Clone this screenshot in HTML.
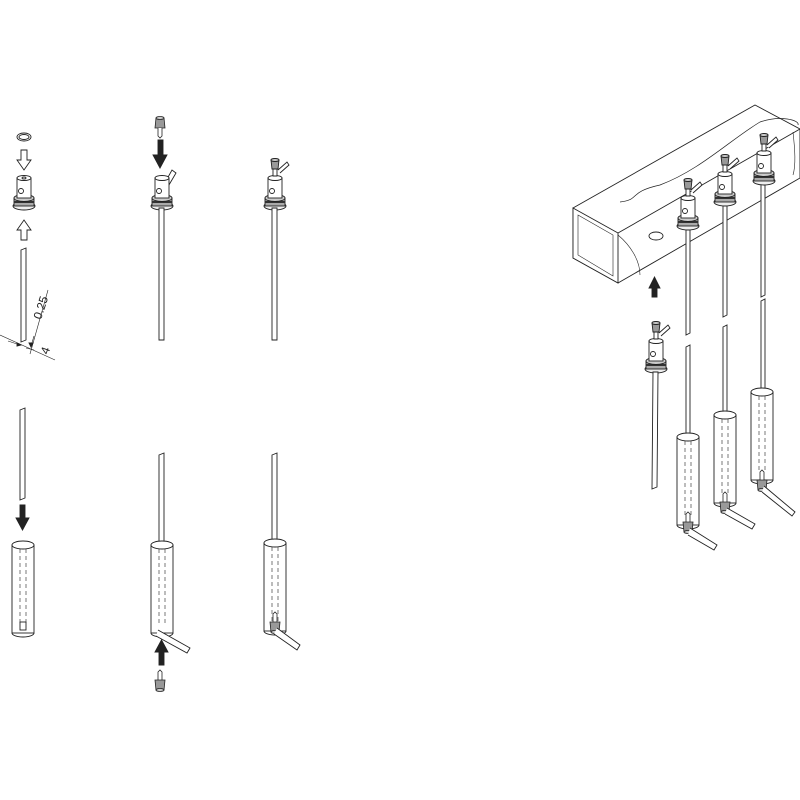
<!DOCTYPE html>
<html><head><meta charset="utf-8"><style>html,body{margin:0;padding:0;background:#fff}svg{display:block}</style></head>
<body>
<svg width="800" height="800" viewBox="0 0 800 800" xmlns="http://www.w3.org/2000/svg" font-family="Liberation Sans, sans-serif">
<defs>
<g id="fit" stroke="#222" stroke-width="0.9" fill="#fff">
  <ellipse cx="0" cy="14" rx="11" ry="4" fill="#eee"/>
  <rect x="-10" y="6" width="20" height="8" fill="#aaa"/>
  <line x1="-10" y1="10" x2="10" y2="10" stroke="#333" stroke-width="2"/>
  <ellipse cx="0" cy="6" rx="10" ry="3.5" fill="#ccc"/>
  <rect x="-7" y="-14" width="14" height="20"/>
  <ellipse cx="0" cy="-14" rx="7" ry="2.5"/>
  <circle cx="-3" cy="-1" r="2.5" fill="#fff"/>
</g>
<g id="knob" stroke="#222" stroke-width="0.9" fill="#fff">
  <path d="M-2 -16 L-2 -23 L2 -23 L2 -16 Z"/>
  <path d="M-4 -32 L4 -32 L3 -23 L-3 -23 Z" fill="#999"/>
  <ellipse cx="0" cy="-32" rx="4" ry="1.5" fill="#ccc"/>
  <path d="M3 -22 L12 -30 L14 -27 L5 -19" fill="#fff"/>
</g>
<g id="tube" stroke="#222" stroke-width="0.9" fill="none">
  <rect x="-11" y="0" width="22" height="88" fill="#fff"/>
  <ellipse cx="0" cy="0" rx="11" ry="4" fill="#fff"/>
  <path d="M-11 88 A11 4 0 0 0 11 88"/>
  <line x1="-3" y1="4" x2="-3" y2="80" stroke-dasharray="4 3" stroke-width="0.6"/>
  <line x1="3" y1="4" x2="3" y2="80" stroke-dasharray="4 3" stroke-width="0.6"/>
</g>
<g id="plug" stroke="#222" stroke-width="0.8" fill="#fff">
  <path d="M-2 -10 L-2 -18 L0 -20 L2 -18 L2 -10"/>
  <path d="M-5 -10 L5 -10 L4 0 L-4 0 Z" fill="#999"/>
  <ellipse cx="0" cy="0" rx="4" ry="1.5" fill="#ccc"/>
</g>
<g id="plugdown" stroke="#222" stroke-width="0.8" fill="#fff">
  <path d="M-4 -10 L4 -10 L5 0 L-5 0 Z" fill="#999"/>
  <ellipse cx="0" cy="-10" rx="4" ry="1.5" fill="#ccc"/>
  <path d="M-2 0 L-2 8 L0 10 L2 8 L2 0"/>
</g>
</defs>

<g stroke="#222" stroke-width="0.9" fill="#fff">
<!-- COLUMN 1 -->
<ellipse cx="24" cy="137" rx="7" ry="4"/>
<ellipse cx="24" cy="137" rx="5" ry="2.5"/>
<path d="M21 150 L27 150 L27 160 L31 160 L24 170 L17 160 L21 160 Z"/>
<use href="#fit" x="24" y="192"/>
<ellipse cx="24" cy="178" rx="2" ry="1"/>
<path d="M21 240 L27 240 L27 230 L31 230 L24 220 L17 230 L21 230 Z"/>
<path d="M21 250 L26 248 L26 340 L21 342 Z"/>
<line x1="0" y1="335" x2="55" y2="360" stroke-width="0.6"/>
<line x1="30" y1="354" x2="48" y2="290" stroke-width="0.6"/>
<line x1="8" y1="341" x2="20" y2="345" stroke-width="0.6"/>
<line x1="26" y1="348" x2="34" y2="350" stroke-width="0.6"/>
<line x1="34" y1="336" x2="31" y2="346" stroke-width="0.6"/>
<path d="M17 343 L21 345 L17 346 Z" fill="#222"/>
<path d="M33 343 L31 347 L29 343 Z" fill="#222"/>
<path d="M20 410 L25 408 L25 498 L20 500 Z"/>
<path d="M20 505 L25 505 L25 518 L29 518 L22.5 530 L16 518 L20 518 Z" fill="#222"/>
<use href="#tube" x="23" y="545"/>
<rect x="20" y="622" width="6" height="8" fill="#fff"/>

<!-- COLUMN 2 -->
<use href="#plugdown" x="160" y="128"/>
<path d="M158 140 L163 140 L163 155 L167 155 L160 168 L153 155 L158 155 Z" fill="#222"/>
<path d="M162 188 L172 170 L176 173 L166 190"/>
<use href="#fit" x="162" y="192"/>
<path d="M159 208 L164 208 L164 340 L159 340 Z"/>
<path d="M159 455 L164 453 L164 545 L159 545 Z"/>
<use href="#tube" x="162" y="545"/>
<path d="M158 630 L190 648 L187 653 L156 636"/>
<path d="M159 665 L164 665 L164 652 L168 652 L161.5 640 L155 652 L159 652 Z" fill="#222"/>
<use href="#plug" x="160" y="690"/>

<!-- COLUMN 3 -->
<use href="#fit" x="275" y="192"/>
<use href="#knob" x="275" y="192"/>
<path d="M272 208 L277 208 L277 340 L272 340 Z"/>
<path d="M272 455 L277 453 L277 545 L272 545 Z"/>
<use href="#tube" x="275" y="543"/>
<use href="#plug" x="275" y="632"/>
<path d="M277 628 L300 645 L297 650 L274 634"/>

<!-- BOX -->
<path d="M573 208 L755 105 L800 129 L800 178 L618 283 L573 258 Z"/>
<path d="M573 208 L618 233 L618 283 L573 258 Z"/>
<path d="M578 215 L613 235 L613 276 L578 255 Z" stroke-width="0.6"/>
<line x1="618" y1="233" x2="800" y2="129"/>
<path d="M620 202 C640 200 628 192 660 185 C700 170 730 140 760 122 C780 115 800 120 798 125" fill="none" stroke-width="0.7"/>
<path d="M618 235 C630 245 640 260 640 275" fill="none" stroke-width="0.6"/>
<path d="M793 132 C795 150 796 165 793 175" fill="none" stroke-width="0.6"/>
<ellipse cx="656" cy="236" rx="7" ry="4"/>
<path d="M652 297 L657 297 L657 288 L660 288 L654.5 277 L649 288 L652 288 Z" fill="#222"/>

<path d="M686 225 L690 223 L690 333 L686 335 Z"/>
<path d="M686 347 L690 345 L690 437 L686 439 Z"/>
<path d="M723 200 L727 198 L727 315 L723 317 Z"/>
<path d="M723 327 L727 325 L727 415 L723 417 Z"/>
<path d="M761 180 L765 178 L765 295 L761 297 Z"/>
<path d="M761 301 L765 299 L765 393 L761 395 Z"/>
<use href="#fit" x="688" y="212"/><use href="#knob" x="688" y="212"/>
<use href="#fit" x="725" y="188"/><use href="#knob" x="725" y="188"/>
<use href="#fit" x="764" y="167"/><use href="#knob" x="764" y="167"/>

<use href="#tube" x="688" y="437"/>
<use href="#plug" x="688" y="532"/>
<path d="M690 528 L717 545 L714 550 L688 535"/>
<use href="#tube" x="725" y="415"/>
<use href="#plug" x="725" y="512"/>
<path d="M727 508 L755 524 L752 529 L725 514"/>
<use href="#tube" x="762" y="392"/>
<use href="#plug" x="762" y="490"/>
<path d="M764 486 L795 512 L792 516 L762 492"/>

<use href="#fit" x="656" y="355"/><use href="#knob" x="656" y="355"/>
<path d="M653 372 L658 372 L657 487 L652 489 Z"/>
</g>

<text x="0" y="0" font-size="12" fill="#222" transform="translate(41,320) rotate(-72)">0.25</text>
<text x="0" y="0" font-size="12" fill="#222" transform="translate(48,355) rotate(-70)">4</text>
</svg>
</body></html>
